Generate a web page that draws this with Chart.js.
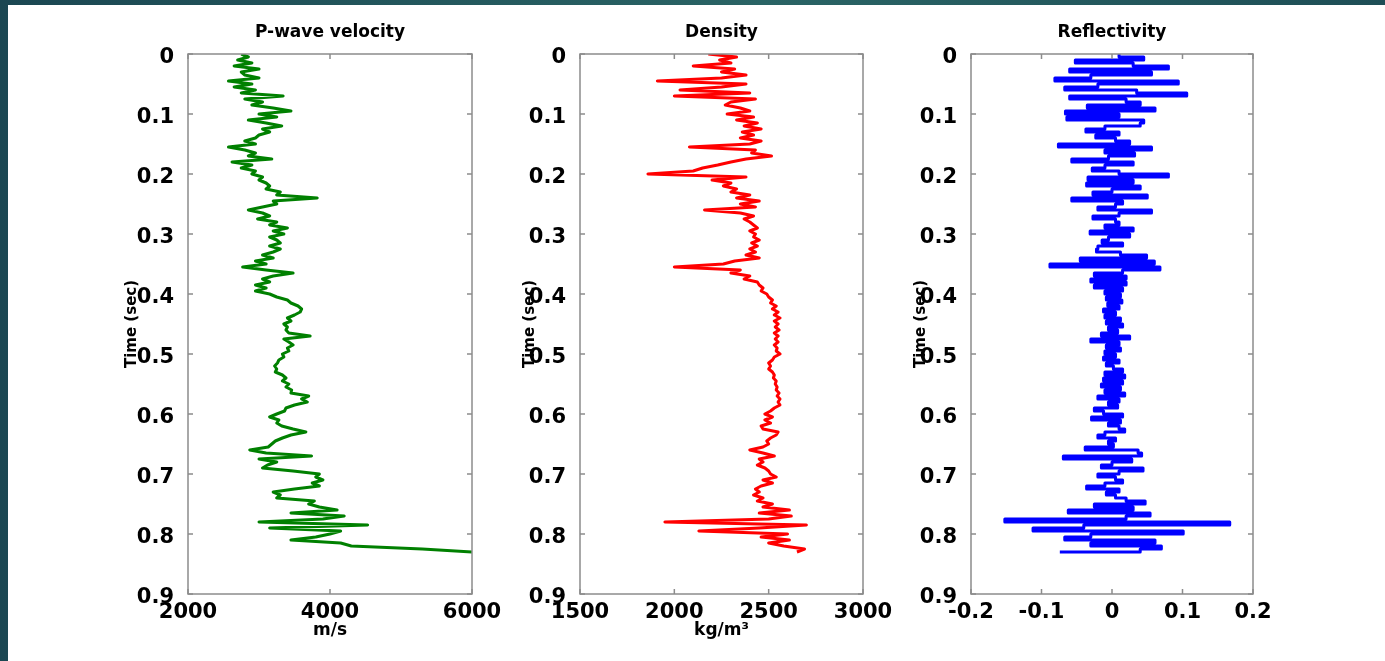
<!DOCTYPE html>
<html>
<head>
<meta charset="utf-8">
<title>Well log: velocity, density, reflectivity</title>
<script src="https://cdn.jsdelivr.net/npm/chart.js@4.4.0/dist/chart.umd.min.js"></script>
<style>
  html, body { margin: 0; padding: 0; }
  body {
    width: 1385px; height: 661px; position: relative; overflow: hidden;
    background: linear-gradient(90deg, #1b4752 0%, #2a6465 55%, #1e4e56 100%);
  }
  #sheet { position: absolute; left: 8px; top: 5px; right: 0; bottom: 0; background: #fff; }
  .panel { position: absolute; top: 0; }
</style>
</head>
<body>
<div id="sheet"></div>
<canvas id="velChart" class="panel" width="389" height="641" style="left:123px"></canvas>
<canvas id="denChart" class="panel" width="382" height="641" style="left:521px"></canvas>
<canvas id="refChart" class="panel" width="381" height="641" style="left:912px"></canvas>
<script>
// sample times (sec), one row = 0.05 s
const timeSec = [
  0.000, 0.005, 0.010, 0.015, 0.020, 0.025, 0.030, 0.035, 0.040, 0.045,
  0.050, 0.055, 0.060, 0.065, 0.070, 0.075, 0.080, 0.085, 0.090, 0.095,
  0.100, 0.105, 0.110, 0.115, 0.120, 0.125, 0.130, 0.135, 0.140, 0.145,
  0.150, 0.155, 0.160, 0.165, 0.170, 0.175, 0.180, 0.185, 0.190, 0.195,
  0.200, 0.205, 0.210, 0.215, 0.220, 0.225, 0.230, 0.235, 0.240, 0.245,
  0.250, 0.255, 0.260, 0.265, 0.270, 0.275, 0.280, 0.285, 0.290, 0.295,
  0.300, 0.305, 0.310, 0.315, 0.320, 0.325, 0.330, 0.335, 0.340, 0.345,
  0.350, 0.355, 0.360, 0.365, 0.370, 0.375, 0.380, 0.385, 0.390, 0.395,
  0.400, 0.405, 0.410, 0.415, 0.420, 0.425, 0.430, 0.435, 0.440, 0.445,
  0.450, 0.455, 0.460, 0.465, 0.470, 0.475, 0.480, 0.485, 0.490, 0.495,
  0.500, 0.505, 0.510, 0.515, 0.520, 0.525, 0.530, 0.535, 0.540, 0.545,
  0.550, 0.555, 0.560, 0.565, 0.570, 0.575, 0.580, 0.585, 0.590, 0.595,
  0.600, 0.605, 0.610, 0.615, 0.620, 0.625, 0.630, 0.635, 0.640, 0.645,
  0.650, 0.655, 0.660, 0.665, 0.670, 0.675, 0.680, 0.685, 0.690, 0.695,
  0.700, 0.705, 0.710, 0.715, 0.720, 0.725, 0.730, 0.735, 0.740, 0.745,
  0.750, 0.755, 0.760, 0.765, 0.770, 0.775, 0.780, 0.785, 0.790, 0.795,
  0.800, 0.805, 0.810, 0.815, 0.820, 0.825, 0.830
];

// P-wave velocity (m/s)
const velocity = [
  2750, 2850, 2700, 2900, 2650, 3000, 2750, 2800, 3000, 2570,
  2900, 2650, 2950, 2750, 3340, 2800, 3050, 2900, 3200, 3450,
  3000, 3250, 2850, 3100, 3320, 3050, 3150, 3000, 2950, 2800,
  2950, 2570, 2800, 2950, 2850, 3180, 2620, 2900, 2750, 2950,
  2900, 3050, 3000, 3100, 3150, 3100, 3300, 3250, 3820, 3200,
  3250, 3050, 2850, 3050, 3150, 2980, 3250, 3150, 3400, 3200,
  3350, 3150, 3250, 3300, 3150, 3300, 3200, 3050, 3200, 2950,
  3100, 2770, 3100, 3480, 3200, 3050, 3150, 2950, 3100, 2950,
  3150, 3250, 3400, 3450, 3550, 3600, 3580, 3500, 3400, 3450,
  3350, 3400, 3380, 3420, 3720, 3350, 3420, 3480, 3400, 3420,
  3330, 3350, 3280, 3260, 3220, 3250, 3230, 3330, 3380, 3330,
  3420, 3380, 3460, 3450, 3700, 3600, 3680, 3500, 3380, 3360,
  3250, 3150, 3280, 3250, 3320, 3480, 3660, 3450, 3330, 3230,
  3180, 3130, 2870, 3100, 3740, 3000, 3250, 3120, 3050, 3480,
  3850, 3800, 3900, 3750, 3850, 3500, 3200, 3300, 3250, 3780,
  3700, 3850, 4100, 3450, 4200, 3900, 3000, 4530, 3150, 4150,
  4000, 3800, 3450, 4150, 4300, 5300, 6000
];

// density (kg/m3)
const density = [
  2180, 2330, 2240, 2300, 2100, 2320, 2250, 2380, 2250, 1910,
  2380, 2250, 2030, 2400, 2000, 2430, 2300, 2270, 2350, 2400,
  2280, 2420, 2330, 2440, 2370, 2460, 2360, 2420, 2350, 2460,
  2400, 2080, 2430, 2410, 2515, 2380, 2300, 2230, 2150, 2100,
  1860, 2380, 2200, 2300, 2260, 2330, 2300, 2400, 2330, 2450,
  2350, 2430, 2160, 2350, 2420, 2370, 2400, 2420, 2440, 2400,
  2430, 2420, 2450, 2410, 2440, 2400, 2430, 2380, 2450, 2320,
  2260, 2000, 2350, 2300, 2400, 2370, 2440, 2450, 2470, 2460,
  2490, 2500, 2520, 2510, 2540, 2520, 2550, 2530, 2560, 2530,
  2550, 2535, 2555, 2530, 2550, 2535, 2550, 2530, 2545, 2540,
  2560, 2530, 2520, 2500, 2510, 2500, 2520, 2530, 2525, 2540,
  2535, 2545, 2540, 2555, 2545, 2560, 2550, 2560, 2530, 2510,
  2480, 2520, 2480, 2510, 2460, 2470, 2550, 2540, 2510, 2490,
  2500, 2470, 2400, 2470, 2530, 2450, 2470, 2440, 2480, 2500,
  2510, 2540, 2470, 2520, 2460, 2430, 2450, 2420, 2470, 2440,
  2520, 2470, 2610, 2450, 2620, 2500, 1950, 2700, 2450, 2130,
  2600, 2460, 2610, 2500, 2580, 2690, 2650
];

// reflectivity
const reflectivity = [
  0.010, 0.045, -0.052, 0.030, 0.080, -0.060, 0.056, -0.030, -0.081, 0.094,
  -0.020, -0.067, 0.035, 0.106, -0.060, 0.020, 0.040, -0.035, 0.061, -0.066,
  0.010, -0.064, 0.045, 0.040, -0.010, -0.037, 0.010, -0.023, 0.005, 0.025,
  -0.076, 0.056, -0.010, 0.032, -0.005, -0.057, 0.030, -0.010, -0.028, 0.010,
  0.080, -0.034, 0.030, -0.036, 0.040, 0.000, -0.027, 0.050, -0.057, 0.015,
  0.005, -0.020, 0.056, 0.010, -0.027, 0.005, 0.010, -0.010, 0.030, -0.031,
  0.025, -0.005, -0.014, 0.015, -0.020, -0.022, 0.012, 0.049, -0.045, 0.060,
  -0.088, 0.068, 0.015, -0.025, 0.020, -0.030, 0.020, -0.025, 0.015, -0.010,
  0.012, -0.008, 0.014, -0.006, 0.010, -0.012, 0.005, -0.010, 0.012, -0.008,
  0.015, -0.005, 0.008, -0.015, 0.025, -0.030, 0.010, -0.008, 0.012, -0.010,
  0.005, -0.012, 0.010, -0.008, 0.002, 0.015, -0.010, 0.018, -0.012, 0.015,
  -0.015, 0.012, -0.010, 0.018, -0.020, 0.010, -0.005, 0.008, -0.025, -0.012,
  0.015, -0.029, 0.012, -0.005, 0.010, 0.018, -0.010, -0.020, 0.005, -0.005,
  0.002, -0.038, 0.037, 0.042, -0.069, 0.028, 0.000, -0.015, 0.044, 0.010,
  -0.020, 0.005, 0.015, -0.010, -0.036, 0.010, -0.008, 0.005, 0.020, 0.047,
  -0.025, 0.030, -0.062, 0.054, 0.020, -0.152, 0.167, -0.040, -0.112, 0.101,
  -0.030, -0.067, 0.061, -0.030, 0.070, 0.040, -0.074
];

Chart.defaults.font.family = "'DejaVu Sans', sans-serif";
Chart.defaults.color = '#000';

// matlab style box with inward ticks on all four sides
const frameTicks = {
  id: 'frameTicks',
  afterDatasetsDraw(chart) {
    const { ctx, chartArea: a, scales: { x, y } } = chart;
    const len = 5;
    ctx.save();
    ctx.strokeStyle = '#8c8c8c';
    ctx.lineWidth = 1.5;
    ctx.strokeRect(a.left, a.top, a.right - a.left, a.bottom - a.top);
    ctx.beginPath();
    x.ticks.forEach(t => {
      const px = x.getPixelForValue(t.value);
      ctx.moveTo(px, a.bottom); ctx.lineTo(px, a.bottom - len);
      ctx.moveTo(px, a.top); ctx.lineTo(px, a.top + len);
    });
    y.ticks.forEach(t => {
      const py = y.getPixelForValue(t.value);
      ctx.moveTo(a.left, py); ctx.lineTo(a.left + len, py);
      ctx.moveTo(a.right, py); ctx.lineTo(a.right - len, py);
    });
    ctx.stroke();
    ctx.restore();
  }
};

const tickLabel = v => String(Math.round(v * 10) / 10);
// empty first line nudges the time labels a few pixels down, as in the original
const timeLabel = v => ['', tickLabel(v)];

function drawLog(id, title, xLabel, values, color, xMin, xMax, xStep, yWidth, stepped) {
  const points = values.map((v, i) => ({ x: v, y: timeSec[i] }));
  return new Chart(document.getElementById(id), {
    type: 'scatter',
    data: {
      datasets: [{
        data: points,
        showLine: true,
        stepped: stepped,
        tension: 0,
        borderColor: color,
        backgroundColor: color,
        borderWidth: 3,
        borderJoinStyle: 'round',
        pointRadius: 0
      }]
    },
    options: {
      responsive: false,
      animation: false,
      devicePixelRatio: 1,
      layout: { padding: { left: 0, top: 0, right: 40, bottom: 0 } },
      plugins: {
        legend: { display: false },
        tooltip: { enabled: false },
        title: {
          display: true,
          text: title,
          fullSize: false,
          color: '#000',
          font: { size: 17, weight: 'bold' },
          padding: { top: 22.8, bottom: 10.8 }
        }
      },
      scales: {
        x: {
          type: 'linear',
          position: 'bottom',
          min: xMin,
          max: xMax,
          grid: { display: false },
          border: { display: false },
          ticks: {
            stepSize: xStep,
            padding: -2,
            maxRotation: 0,
            autoSkip: false,
            font: { size: 21, weight: 'bold' },
            callback: tickLabel
          },
          title: { display: true, text: xLabel, font: { size: 17, weight: 'bold' }, padding: 0 },
          afterFit: s => { s.height = 47; }
        },
        y: {
          type: 'linear',
          reverse: true,
          min: 0,
          max: 0.9,
          grid: { display: false },
          border: { display: false },
          ticks: {
            stepSize: 0.1,
            padding: 6,
            autoSkip: false,
            font: { size: 21, weight: 'bold', lineHeight: '8px' },
            callback: timeLabel
          },
          title: { display: true, text: 'Time (sec)', font: { size: 15, weight: 'bold' }, padding: 0 },
          afterFit: s => { s.width = yWidth; }
        }
      }
    },
    plugins: [frameTicks]
  });
}

drawLog('velChart', 'P-wave velocity', 'm/s', velocity, '#008000', 2000, 6000, 2000, 65, false);
drawLog('denChart', 'Density', 'kg/m\u00b3', density, '#ff0000', 1500, 3000, 500, 59, false);
drawLog('refChart', 'Reflectivity', '', reflectivity, '#0000ff', -0.2, 0.2, 0.1, 59, 'after');
</script>
</body>
</html>
